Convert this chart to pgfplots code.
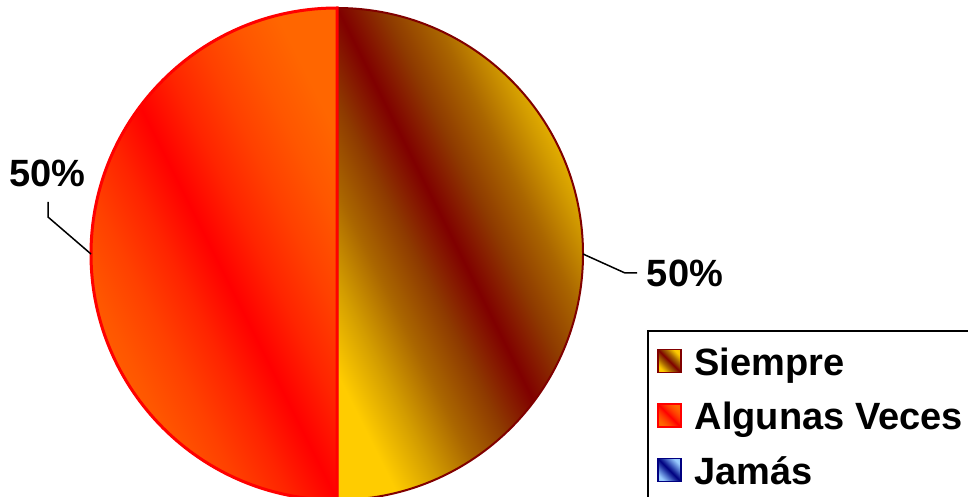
\documentclass[border=0pt]{standalone}
\usepackage{pgfplots}
\pgfplotsset{compat=1.18}
\usepackage{pgfplotstable}
\usepackage{fontspec}
\setmainfont{Liberation Sans}

% slice colours, from the ridge on the box diagonal out to the corners
\definecolor{sDark}{HTML}{800000}
\definecolor{sQ1}{HTML}{8E3A00}
\definecolor{sQ2}{HTML}{AA6600}
\definecolor{sQ3}{HTML}{D49E00}
\definecolor{sGold}{HTML}{FFCC00}
\definecolor{aRed}{HTML}{FF0000}
\definecolor{aQ1}{HTML}{FF2400}
\definecolor{aQ2}{HTML}{FF4000}
\definecolor{aQ3}{HTML}{FF5600}
\definecolor{aOrange}{HTML}{FF6600}
\definecolor{jNavy}{HTML}{000080}
\definecolor{jQ1}{HTML}{1F30A0}
\definecolor{jQ2}{HTML}{4766C4}
\definecolor{jQ3}{HTML}{709AE2}
\definecolor{jLight}{HTML}{99CCFF}

% diagonal "centre" gradients: ridge at 50bp, box corners at 25bp and 75bp
\pgfdeclareverticalshading{siempreShade}{100bp}{color(0bp)=(sGold); color(25bp)=(sGold); color(31.25bp)=(sQ3); color(37.5bp)=(sQ2); color(43.75bp)=(sQ1); color(50bp)=(sDark); color(56.25bp)=(sQ1); color(62.5bp)=(sQ2); color(68.75bp)=(sQ3); color(75bp)=(sGold); color(100bp)=(sGold)}
\pgfdeclareverticalshading{algunasShade}{100bp}{color(0bp)=(aOrange); color(25bp)=(aOrange); color(31.25bp)=(aQ3); color(37.5bp)=(aQ2); color(43.75bp)=(aQ1); color(50bp)=(aRed); color(56.25bp)=(aQ1); color(62.5bp)=(aQ2); color(68.75bp)=(aQ3); color(75bp)=(aOrange); color(100bp)=(aOrange)}
\pgfdeclareverticalshading{jamasShade}{100bp}{color(0bp)=(jLight); color(25bp)=(jLight); color(31.25bp)=(jQ3); color(37.5bp)=(jQ2); color(43.75bp)=(jQ1); color(50bp)=(jNavy); color(56.25bp)=(jQ1); color(62.5bp)=(jQ2); color(68.75bp)=(jQ3); color(75bp)=(jLight); color(100bp)=(jLight)}

\newcommand\lblfont{\bfseries\fontsize{19}{22}\selectfont}

\pgfplotstableread[col sep=comma]{
categoria,valor
Siempre,50
Algunas Veces,50
Jamás,0
}\piedata

\begin{document}
\begin{tikzpicture}
\pgfplotstablegetelem{0}{valor}\of\piedata \let\vA\pgfplotsretval
\pgfplotstablegetelem{1}{valor}\of\piedata \let\vB\pgfplotsretval
\pgfplotstablegetelem{2}{valor}\of\piedata \let\vC\pgfplotsretval
\pgfplotstablegetelem{0}{categoria}\of\piedata \let\nA\pgfplotsretval
\pgfplotstablegetelem{1}{categoria}\of\piedata \let\nB\pgfplotsretval
\pgfplotstablegetelem{2}{categoria}\of\piedata \let\nC\pgfplotsretval
\pgfmathsetmacro\total{\vA+\vB+\vC}
\pgfmathsetmacro\fA{\vA/\total}
\pgfmathsetmacro\fB{\vB/\total}
% slices run clockwise from twelve o'clock
\pgfmathsetmacro\aA{90}
\pgfmathsetmacro\aB{\aA-360*\fA}
\pgfmathsetmacro\aC{\aB-360*\fB}
\pgfmathsetmacro\mA{(\aA+\aB)/2}
\pgfmathsetmacro\mB{(\aB+\aC)/2}
\pgfmathtruncatemacro\pA{round(100*\fA)}
\pgfmathtruncatemacro\pB{round(100*\fB)}
% gradient ridge follows the diagonal of a half-disc box (width : height = 1 : 2)
\pgfmathsetmacro\gradAngle{-atan(2)}

\path[use as bounding box] (0,0) rectangle (484pt,-248.5pt);
\begin{scope}
\clip (0,0) rectangle (484pt,-248.5pt);
\begin{axis}[
  at={(168.5pt,-127pt)}, anchor=center,
  x=123pt, y=123pt,
  xmin=-1, xmax=1, ymin=-1, ymax=1,
  hide axis, clip=false,
  legend cell align=left,
  legend style={at={(1.1301,0.3455)}, anchor=north west,
    draw=black, line width=1pt, fill=white,
    inner xsep=4.5pt, inner ysep=8pt,
    row sep=8.75pt, column sep=6.5pt,
    font=\lblfont,
    nodes={inner sep=0pt, text height=14pt, text depth=4.5pt},
    cells={anchor=base west}},
]
  % Siempre
  \shadedraw[shading=siempreShade, shading angle=\gradAngle, draw=sDark, line width=1pt]
    (axis cs:0,0) -- (axis cs:{cos(\aA)},{sin(\aA)})
    arc[start angle=\aA, end angle=\aB, radius=123pt] -- cycle;
  % Algunas Veces
  \shadedraw[shading=algunasShade, shading angle=\gradAngle, draw=aRed, line width=1.5pt]
    (axis cs:0,0) -- (axis cs:{cos(\aB)},{sin(\aB)})
    arc[start angle=\aB, end angle=\aC, radius=123pt] -- cycle;

  % leader lines and percentage labels
  \draw[black, line width=0.75pt]
    (axis cs:{cos(\mA)},{sin(\mA)}) -- (axis cs:1.1707,-0.0772) -- (axis cs:1.2195,-0.0772);
  \node[anchor=base, inner sep=0pt, font=\lblfont] at (axis cs:1.4146,-0.1341) {\pA\%};
  \draw[black, line width=0.75pt]
    (axis cs:{cos(\mB)},{sin(\mB)}) -- (axis cs:-1.1748,0.1504) -- (axis cs:-1.1748,0.2114);
  \node[anchor=base, inner sep=0pt, font=\lblfont] at (axis cs:-1.1768,0.2724) {\pB\%};

  \addlegendimage{legend image code/.code={
    \shadedraw[shading=siempreShade, shading angle=-45, draw=sDark, line width=0.8pt]
      (0pt,1.25pt) rectangle (11.5pt,12.75pt);}}
  \addlegendentry{\nA}
  \addlegendimage{legend image code/.code={
    \shadedraw[shading=algunasShade, shading angle=-45, draw=aRed, line width=0.8pt]
      (0pt,1.25pt) rectangle (11.5pt,12.75pt);}}
  \addlegendentry{\nB}
  \addlegendimage{legend image code/.code={
    \shadedraw[shading=jamasShade, shading angle=-45, draw=jNavy, line width=0.8pt]
      (0pt,1.25pt) rectangle (11.5pt,12.75pt);}}
  \addlegendentry{\nC}
\end{axis}
\end{scope}
\end{tikzpicture}
\end{document}
